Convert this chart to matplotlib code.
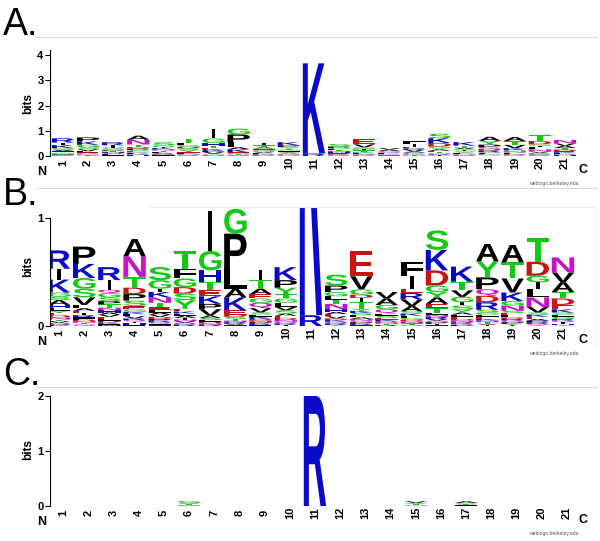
import matplotlib
matplotlib.use("Agg")
import matplotlib.pyplot as plt
from matplotlib.textpath import TextPath
from matplotlib.font_manager import FontProperties
from matplotlib.patches import PathPatch
from matplotlib.transforms import Affine2D
from matplotlib.lines import Line2D

# sequence logo data, one stack per position, letters listed top -> bottom
positions = list(range(1, 22))

logo_letters = [
    "RIKGSAHLYEDNTVQP",
    "PKGSVLAEIRFDNTQ",
    "RIQGSPTNHAVELDKFM",
    "ANTDPSEGKLVRQIHF",
    "SGIKNTELAVDPRQFH",
    "TFGDSYEKLAINVQR",
    "IGHTEKPVASLDNR",
    "GPLAKEDSTNRVH",
    "ITAEGQVSLKDNPRF",
    "KPYTGLVSAEDNQRI",
    "KR",
    "SPGLTNHAEVDKQRY",
    "EVGDITYKSLANQPRH",
    "VAGQLSEKDNTR",
    "FIERVASKLGDNTQ",
    "SKDGYAETLNRVQPIH",
    "KTVGISYALEDNRQP",
    "AYPQDRSGLEKNTVI",
    "ATVKGNSELDRQPYI",
    "TDGILNVSKEAPRQY",
    "NVATDEKSLGRQIHY",
]

logo_heights = [
    [.17, .10, .12, .04, .03, .045, .03, .025, .02, .02, .02, .02, .015, .015, .015, .015],
    [.16, .13, .10, .08, .07, .03, .025, .02, .02, .02, .02, .015, .015, .015, .015],
    [.12, .09, .03, .04, .035, .03, .03, .025, .02, .02, .02, .02, .015, .015, .015, .01, .01],
    [.16, .19, .10, .06, .06, .05, .03, .025, .02, .02, .02, .015, .015, .015, .015, .01],
    [.12, .08, .03, .05, .05, .04, .025, .025, .02, .02, .02, .015, .015, .015, .01, .01],
    [.16, .09, .08, .06, .06, .08, .025, .02, .02, .02, .015, .015, .015, .015, .015],
    [.37, .18, .11, .07, .06, .07, .05, .06, .02, .02, .015, .015, .015, .01],
    [.23, .32, .19, .08, .12, .04, .02, .02, .015, .015, .015, .01, .01],
    [.09, .08, .05, .04, .04, .05, .04, .02, .02, .02, .015, .015, .015, .01, .01],
    [.12, .07, .06, .04, .04, .04, .03, .03, .02, .02, .02, .015, .015, .015, .01],
    [3.57, .10],
    [.10, .06, .04, .03, .04, .05, .025, .02, .02, .02, .015, .015, .015, .015, .01],
    [.23, .12, .05, .03, .04, .06, .02, .02, .02, .02, .015, .015, .015, .015, .01, .01],
    [.06, .06, .04, .04, .02, .02, .015, .015, .015, .01, .01, .01],
    [.13, .12, .04, .06, .06, .05, .02, .02, .02, .02, .015, .015, .015, .01],
    [.18, .19, .14, .06, .05, .06, .04, .04, .02, .02, .02, .015, .015, .015, .01, .01],
    [.14, .08, .06, .05, .03, .04, .025, .02, .02, .02, .015, .015, .015, .01, .01],
    [.16, .15, .11, .06, .06, .07, .025, .02, .02, .02, .015, .015, .015, .01, .01],
    [.16, .15, .13, .08, .04, .05, .02, .02, .02, .015, .015, .015, .015, .01, .01],
    [.22, .13, .06, .06, .08, .09, .05, .02, .02, .02, .015, .015, .015, .01, .01],
    [.14, .09, .09, .06, .06, .04, .03, .02, .02, .02, .015, .015, .015, .01, .01],
]

# panel C (almost empty apart from position 11)
c_letters = ["", "", "", "", "", "GSAETLVN", "", "", "", "", "R", "", "", "",
             "VSAETLGN", "", "ASGETVLN", "", "", "", ""]
c_heights = [[], [], [], [], [], [.035] + [.008] * 7, [], [], [], [], [2.0], [], [], [],
             [.03] + [.008] * 7, [], [.03] + [.008] * 7, [], [], [], []]

colors = {}
for c in "GSTYC":
    colors[c] = "#14c814"
for c in "NQ":
    colors[c] = "#c814c8"
for c in "KRH":
    colors[c] = "#0a0ac8"
for c in "DE":
    colors[c] = "#c81414"

W, H = 600, 541
fig = plt.figure(figsize=(6, 5.41), dpi=100)
fp = FontProperties(family="Liberation Sans", weight="bold")
paths = {}


def draw_letter(ax, ch, x, y, w, h):
    if ch not in paths:
        paths[ch] = TextPath((0, 0), ch, size=1, prop=fp)
    tp = paths[ch]
    bb = tp.get_extents()
    if ch == "I":
        w = w * 0.16
    t = Affine2D().translate(-bb.x0, -bb.y0).scale(w / bb.width, h / bb.height).translate(x - w / 2, y)
    ax.add_patch(PathPatch(t.transform_path(tp), fc=colors.get(ch, "black"), ec="none", lw=0))


def px_axes(left, top, right, bottom):
    return fig.add_axes([left / W, 1 - bottom / H, (right - left) / W, (bottom - top) / H])


def panel(label, label_y, sep_y, top, base, ppb, x0, step, letters, heights, yticks, spine_top, mark_y):
    left, right = 50, 590
    ax = px_axes(left, top, right, base)
    ax.set_xlim(1 - (x0 - left) / step, 1 + (right - x0) / step)
    ax.set_ylim(0, (base - top) / ppb)
    for pos, lets, hs in zip(positions, letters, heights):
        y = 0
        for ch, h in zip(lets[::-1], hs[::-1]):
            draw_letter(ax, ch, pos, y, 0.89, h)
            y += h
    for s in ["top", "right", "bottom"]:
        ax.spines[s].set_visible(False)
    ax.spines["left"].set_bounds(0, spine_top)
    ax.spines["left"].set_linewidth(0.8)
    ax.set_yticks(yticks)
    ax.set_yticklabels([str(v) for v in yticks], fontsize=8, fontweight="bold",
                       family="Liberation Sans")
    ax.tick_params(axis="y", length=3.6, width=0.8, pad=1)
    ax.set_xticks(positions)
    ax.set_xticklabels([str(p) for p in positions], rotation=90, va="center", ha="center",
                       fontsize=8, fontweight="bold", family="Liberation Sans")
    ax.tick_params(axis="x", length=0, pad=5)
    ax.set_ylabel("bits", fontsize=8.5, fontweight="bold", family="Liberation Sans", labelpad=2)

    fig.text(3 / W, 1 - label_y / H, label, fontsize=27, family="Liberation Sans", va="baseline")
    fig.add_artist(Line2D([36 / W, 597 / W], [1 - sep_y / H] * 2, color="#dcdcdc", lw=0.8))
    fig.text(42 / W, 1 - (base + 16) / H, "N", fontsize=9, fontweight="bold",
             family="Liberation Sans", ha="center", va="center")
    fig.text(583 / W, 1 - (base + 14) / H, "C", fontsize=9, fontweight="bold",
             family="Liberation Sans", ha="center", va="center")
    fig.text(554 / W, 1 - mark_y / H, "weblogo.berkeley.edu", fontsize=3.6, color="#555555",
             family="Liberation Sans", ha="center", va="center")
    return ax


panel("A.", 35, 37, 50, 156, 25.25, 63, 25.1, logo_letters, logo_heights,
      [0, 1, 2, 3, 4], 4.2, 184)
panel("B.", 205, 188, 207, 326, 108, 59, 25.2, logo_letters, logo_heights,
      [0, 1], 1, 353)
panel("C.", 385, 387, 393, 506, 55, 63, 25.2, c_letters, c_heights,
      [0, 1, 2], 2, 533)

# faint frame of the clipped middle logo
fig.add_artist(Line2D([150 / W, 595 / W], [1 - 207 / H] * 2, color="#eeeeee", lw=0.8))
fig.add_artist(Line2D([595 / W, 595 / W], [1 - 207 / H, 1 - 346 / H], color="#eeeeee", lw=0.8))

fig.savefig("out.png", dpi=100)
